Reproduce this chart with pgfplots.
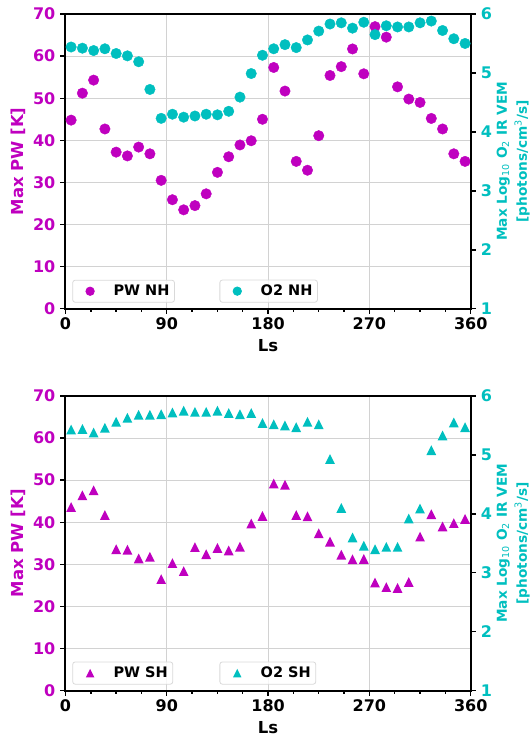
\documentclass[border=0pt]{standalone}
\usepackage{fontspec}
\setmainfont{DejaVu Sans}
\usepackage{pgfplots}
\pgfplotsset{compat=1.18}
\usepackage{pgfplotstable}
\definecolor{mm}{rgb}{0.75,0,0.75}
\definecolor{cc}{rgb}{0,0.75,0.75}

\pgfdeclareplotmark{mtri}{%
 \pgfpathmoveto{\pgfqpoint{0pt}{\pgfplotmarksize}}%
 \pgfpathlineto{\pgfqpoint{-\pgfplotmarksize}{-\pgfplotmarksize}}%
 \pgfpathlineto{\pgfqpoint{\pgfplotmarksize}{-\pgfplotmarksize}}%
 \pgfpathclose\pgfusepathqfill}

\pgfplotstableread{
Ls pwn o2n pws o2s
5 44.8 5.44 43.6 5.43
15 51.2 5.42 46.4 5.44
25 54.3 5.38 47.6 5.38
35 42.7 5.41 41.7 5.46
45 37.2 5.33 33.6 5.56
55 36.3 5.29 33.5 5.63
65 38.4 5.19 31.4 5.68
75 36.8 4.72 31.8 5.68
85 30.5 4.23 26.5 5.69
95 25.9 4.30 30.3 5.72
105 23.5 4.25 28.4 5.75
115 24.5 4.27 34.1 5.73
125 27.3 4.30 32.4 5.73
135 32.4 4.29 33.9 5.75
145 36.1 4.35 33.3 5.71
155 38.9 4.59 34.2 5.69
165 39.9 4.99 39.7 5.71
175 45.0 5.30 41.5 5.54
185 57.3 5.41 49.2 5.52
195 51.7 5.48 48.9 5.50
205 35.0 5.43 41.7 5.47
215 32.9 5.56 41.4 5.56
225 41.1 5.71 37.4 5.52
235 55.4 5.83 35.4 4.93
245 57.5 5.85 32.3 4.10
255 61.7 5.76 31.2 3.60
265 55.8 5.86 31.3 3.46
275 67.0 5.65 25.7 3.40
285 64.5 5.80 24.6 3.44
295 52.7 5.78 24.4 3.44
305 49.8 5.78 25.8 3.92
315 49.0 5.85 36.6 4.09
325 45.2 5.88 41.9 5.08
335 42.7 5.72 39.0 5.33
345 36.8 5.58 39.8 5.55
355 35.0 5.50 40.8 5.47
}\data

\pgfplotsset{
 base/.style={
  scale only axis, width=405.2pt, height=294.8pt,
  xmin=0, xmax=360,
  axis line style={line width=2pt, black},
  tick style={line width=1.4pt, black},
  major tick length=5pt, minor tick length=3pt,
  tick align=outside,
  /pgf/number format/assume math mode=true,
  tick label style={font=\fontsize{16}{16}\selectfont\bfseries, inner sep=3.5pt},
  yticklabel style={inner xsep=5pt},
  legend style={draw=gray!30, rounded corners=2.5pt, fill=white, fill opacity=0.8,
    text opacity=1, line width=0.8pt,
    font=\fontsize{14.5}{14.5}\selectfont\bfseries, inner xsep=3pt, inner ysep=3pt,
    anchor=south west},
  legend image code/.code={\path (0pt,0pt) (35pt,0pt); \draw[#1, mark size=4.2pt, fill opacity=1, draw opacity=1] plot coordinates {(14pt,0pt)};},
 },
 leftax/.style={base,
  ymin=0, ymax=70, ytick={0,10,...,70},
  xtick={0,90,180,270,360}, minor x tick num=3,
  tick pos=left,
  xmajorgrids, ymajorgrids,
  grid style={line width=0.8pt, draw=gray!35},
  yticklabel style={text=mm},
  ylabel={Max PW [K]},
  every axis y label/.style={at={(axis description cs:0,0.5)}, xshift=-47pt, rotate=90, anchor=center,
     text=mm, font=\fontsize{16.5}{16.5}\selectfont\bfseries},
  xlabel={Ls},
  every axis x label/.style={at={(axis description cs:0.5,0)}, yshift=-37pt, anchor=center,
     font=\fontsize{16.5}{16.5}\selectfont\bfseries},
  legend style={at={(0.0168,0.0207)}},
 },
 rightax/.style={base,
  axis y line*=right, axis x line=none,
  ymin=1, ymax=6, ytick={1,2,3,4,5,6},
  yticklabel style={text=cc},
  ylabel={Max Log\textsubscript{\mdseries 10} O\textsubscript{\mdseries 2} IR VEM\\ {[}photons/cm\textsuperscript{\mdseries 3}/s{]}},
  every axis y label/.style={at={(axis description cs:1,0.5)}, xshift=42.5pt, rotate=90, anchor=center,
     text=cc, align=center, font=\fontsize{13.7}{20}\selectfont\bfseries},
  legend style={at={(0.380,0.0207)}},
 },
}

\begin{document}
\begin{tikzpicture}
\path[use as bounding box] (0,0) rectangle (532pt,737pt);
% top panel
\begin{axis}[leftax, at={(65.5pt,428.2pt)}, anchor=south west]
\addplot[only marks, mark=*, mark size=5.25pt, color=mm, mark options={draw=none, fill=mm}] table[x=Ls, y=pwn] {\data};
\addlegendentry{PW NH}
\end{axis}
\begin{axis}[rightax, at={(65.5pt,428.2pt)}, anchor=south west]
\addplot[only marks, mark=*, mark size=5.25pt, color=cc, mark options={draw=none, fill=cc}] table[x=Ls, y=o2n] {\data};
\addlegendentry{O2 NH}
\end{axis}
% bottom panel
\begin{axis}[leftax, at={(65.5pt,46.3pt)}, anchor=south west]
\addplot[only marks, mark=mtri, mark size=4.9pt, color=mm, mark options={fill=mm}] table[x=Ls, y=pws] {\data};
\addlegendentry{PW SH}
\end{axis}
\begin{axis}[rightax, at={(65.5pt,46.3pt)}, anchor=south west]
\addplot[only marks, mark=mtri, mark size=4.9pt, color=cc, mark options={fill=cc}] table[x=Ls, y=o2s] {\data};
\addlegendentry{O2 SH}
\end{axis}
\end{tikzpicture}
\end{document}
